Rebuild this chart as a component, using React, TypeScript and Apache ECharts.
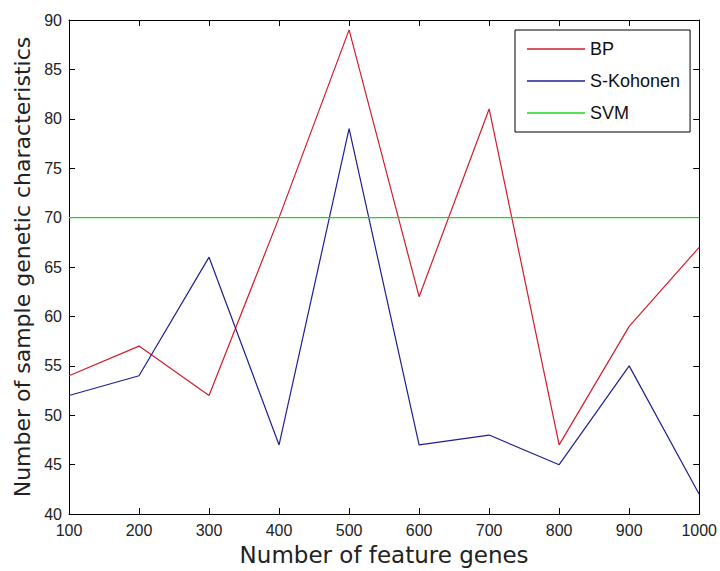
import React, { useEffect, useRef } from "react";
import * as echarts from "echarts";

const featureGenes = [100, 200, 300, 400, 500, 600, 700, 800, 900, 1000];
const bpValues = [54, 57, 52, 70, 89, 62, 81, 47, 59, 67];
const kohonenValues = [52, 54, 66, 47, 79, 47, 48, 45, 55, 42];
const svmValues = [70, 70, 70, 70, 70, 70, 70, 70, 70, 70];
const seriesNames = ["BP", "S-Kohonen", "SVM"];

const pairs = (vals: number[]) => featureGenes.map((x, i) => [x, vals[i]]);

export default function App() {
  const ref = useRef<HTMLDivElement>(null);
  useEffect(() => {
    document.body.style.margin = "0";
    const chart = echarts.init(ref.current!, null, { renderer: "svg" });
    const tickFont = { fontFamily: "Liberation Sans, Arial", fontSize: 16, color: "#222" };
    const axisLine = { show: true, onZero: false, lineStyle: { color: "#000", width: 1 } };
    const tick = { show: true, inside: true, length: 6, lineStyle: { color: "#000" } };
    chart.setOption({
      animation: false,
      backgroundColor: "#fff",
      grid: { left: 69, right: 20, top: 20, bottom: 55, containLabel: false },
      legend: {
        data: seriesNames,
        orient: "vertical",
        left: 515,
        top: 30,
        backgroundColor: "#fff",
        borderColor: "#000",
        borderWidth: 1,
        borderRadius: 0,
        padding: [10, 10, 10, 12],
        icon: "rect",
        itemWidth: 58,
        itemHeight: 1.5,
        itemGap: 14,
        textStyle: {
          fontFamily: "Liberation Sans, Arial",
          fontSize: 18,
          lineHeight: 14,
          color: "#111",
        },
      },
      xAxis: [
        {
          type: "value",
          min: 100,
          max: 1000,
          interval: 100,
          name: "Number of feature genes",
          nameLocation: "middle",
          nameGap: 28,
          nameTextStyle: { fontFamily: "DejaVu Sans", fontSize: 23, color: "#222" },
          axisLine,
          axisTick: tick,
          axisLabel: { ...tickFont, margin: 8, formatter: (v: number) => String(v) },
          splitLine: { show: false },
        },
        {
          type: "value",
          position: "top",
          min: 100,
          max: 1000,
          interval: 100,
          axisLine,
          axisTick: tick,
          axisLabel: { show: false },
          splitLine: { show: false },
        },
      ],
      yAxis: [
        {
          type: "value",
          min: 40,
          max: 90,
          interval: 5,
          name: "Number of sample genetic characteristics",
          nameLocation: "middle",
          nameGap: 35,
          nameTextStyle: { fontFamily: "DejaVu Sans", fontSize: 22, color: "#222" },
          axisLine,
          axisTick: tick,
          axisLabel: { ...tickFont, margin: 7 },
          splitLine: { show: false },
        },
        {
          type: "value",
          position: "right",
          min: 40,
          max: 90,
          interval: 5,
          axisLine,
          axisTick: tick,
          axisLabel: { show: false },
          splitLine: { show: false },
        },
      ],
      series: [
        {
          name: seriesNames[0],
          type: "line",
          data: pairs(bpValues),
          symbol: "none",
          lineStyle: { color: "#d01c2c", width: 1.2 },
          itemStyle: { color: "#d01c2c" },
        },
        {
          name: seriesNames[1],
          type: "line",
          data: pairs(kohonenValues),
          symbol: "none",
          lineStyle: { color: "#1f1f8f", width: 1.2 },
          itemStyle: { color: "#1f1f8f" },
        },
        {
          name: seriesNames[2],
          type: "line",
          data: pairs(svmValues),
          symbol: "none",
          lineStyle: { color: "#1ed81e", width: 1.2 },
          itemStyle: { color: "#1ed81e" },
        },
      ],
    });
    return () => chart.dispose();
  }, []);
  return <div ref={ref} style={{ width: 720, height: 571 }} />;
}
